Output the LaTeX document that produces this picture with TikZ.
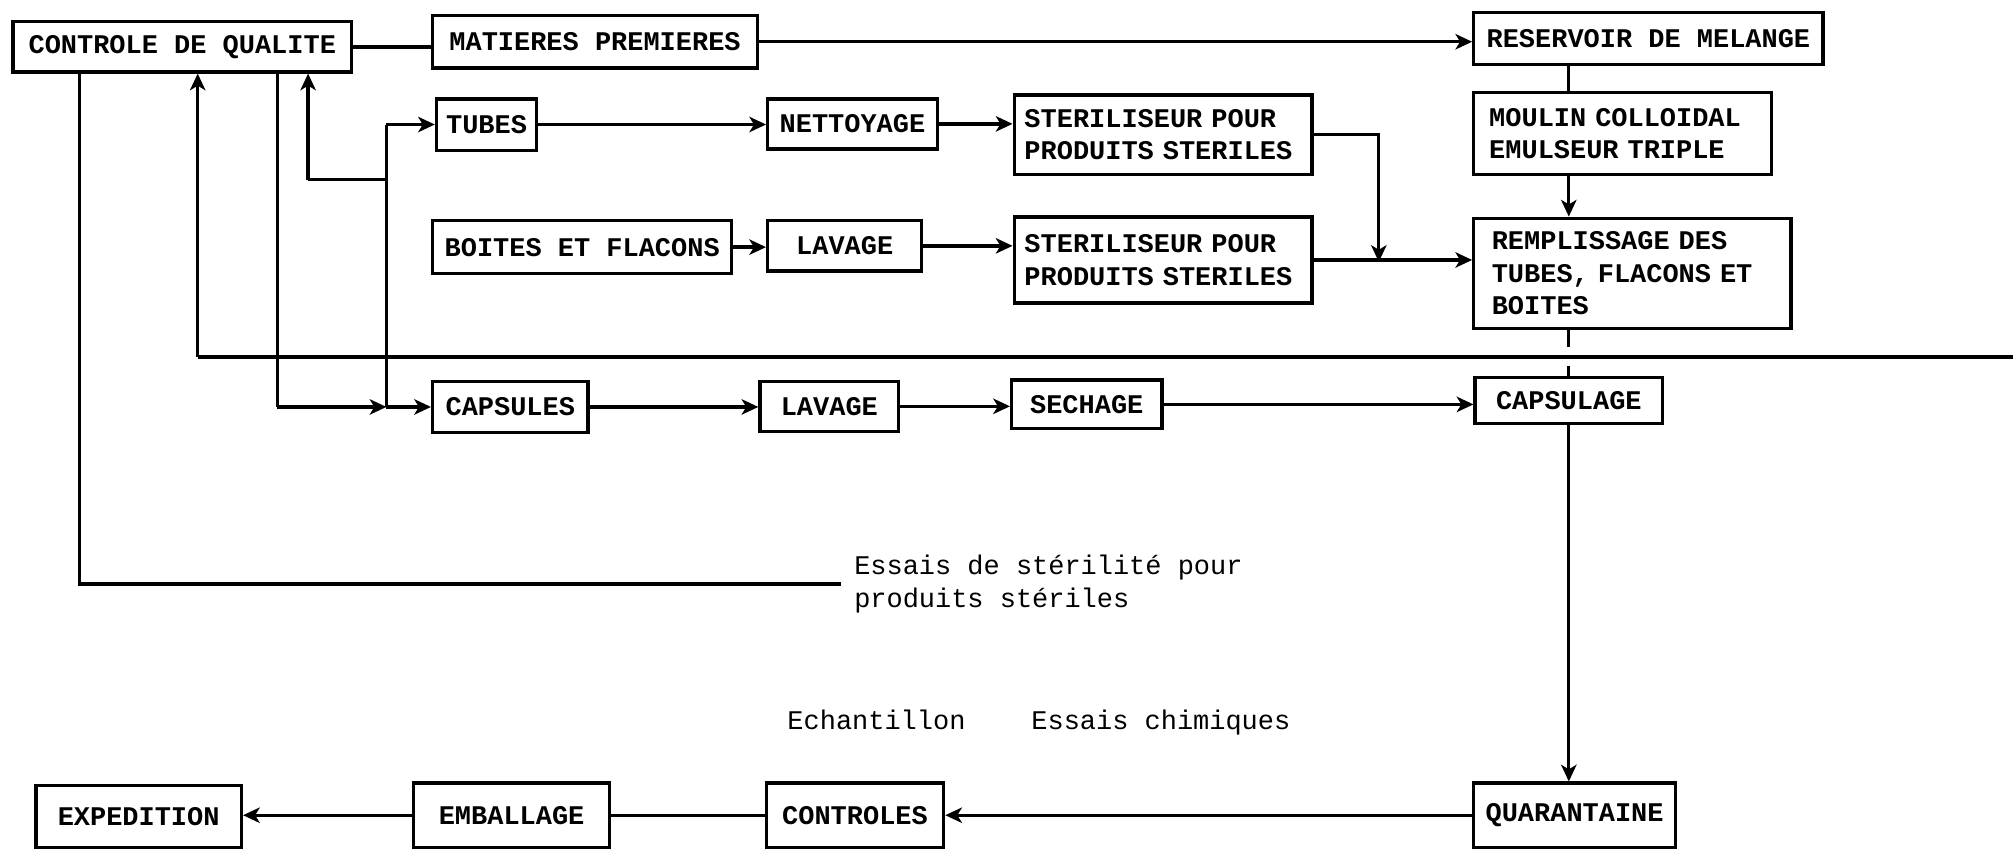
\documentclass[tikz,border=0pt]{standalone}
\usepackage{fontspec}
\newfontfamily\tw{Liberation Mono}
\usetikzlibrary{arrows.meta}
\tikzset{
  bx/.style={draw, line width=1.3pt, inner sep=0pt, font=\tw\bfseries\fontsize{10.5}{12.6}\selectfont},
  mbx/.style={bx, align=left, inner xsep=#1},
  lbl/.style={inner sep=0pt, font=\tw\fontsize{10.5}{13}\selectfont, align=left},
  ln/.style={line width=1.3pt},
  arr/.style={line width=1.3pt, -{Stealth[length=6.5pt,width=6pt,inset=1.8pt]}},
}
\begin{document}
\begin{tikzpicture}[x=0.5pt,y=-0.5pt]
\useasboundingbox (0,0) rectangle (1568,662);
\fill[white] (0,0) rectangle (1568,662);

% boxes
\node[bx, minimum width=132pt, minimum height=19.5pt] (qual) at (142,36.5) {CONTROLE DE QUALITE};
\node[bx, minimum width=126.5pt, minimum height=20.5pt] (mat) at (463.5,32.5) {MATIERES PREMIERES};
\node[bx, minimum width=136pt, minimum height=20pt] (res) at (1284,30) {RESERVOIR DE MELANGE};
\node[bx, minimum width=39pt, minimum height=20pt] (tubes) at (379,97) {TUBES};
\node[bx, minimum width=66pt, minimum height=19.5pt] (nett) at (664,96.5) {NETTOYAGE};
\node[mbx=4pt, text width=108pt, minimum height=31pt] (ster1) at (906,105) {STERILISEUR POUR\\PRODUITS STERILES};
\node[mbx=6pt, text width=104pt, minimum height=32pt] (moulin) at (1264,104) {MOULIN COLLOIDAL\\EMULSEUR TRIPLE};
\node[bx, minimum width=116.5pt, minimum height=20.5pt] (boites) at (453.5,192.5) {BOITES ET FLACONS};
\node[bx, minimum width=60pt, minimum height=19.5pt] (lav1) at (658,191.5) {LAVAGE};
\node[mbx=4pt, text width=108pt, minimum height=33.5pt] (ster2) at (906,202.5) {STERILISEUR POUR\\PRODUITS STERILES};
\node[mbx=7pt, text width=109.5pt, minimum height=43pt] (rempl) at (1271.5,213) {REMPLISSAGE DES\\TUBES, FLACONS ET\\BOITES};
\node[bx, minimum width=60.5pt, minimum height=20pt] (caps) at (397.5,317) {CAPSULES};
\node[bx, minimum width=54pt, minimum height=19.5pt] (lav2) at (646,316.5) {LAVAGE};
\node[bx, minimum width=58.5pt, minimum height=19pt] (sech) at (846.5,315) {SECHAGE};
\node[bx, minimum width=73pt, minimum height=18pt] (capsulage) at (1222,312) {CAPSULAGE};
\node[bx, minimum width=80pt, minimum height=24pt] (exped) at (108,636) {EXPEDITION};
\node[bx, minimum width=76.5pt, minimum height=25pt] (emb) at (398.5,635) {EMBALLAGE};
\node[bx, minimum width=69pt, minimum height=25pt] (contr) at (666,635) {CONTROLES};
\node[bx, minimum width=78.5pt, minimum height=25pt] (quar) at (1226.5,635) {QUARANTAINE};

% labels
\node[lbl, anchor=west, inner xsep=5pt] (essais) at (655,455) {Essais de stérilité pour\\produits stériles};
\node[lbl, anchor=base west] (ech) at (613,568) {Echantillon};
\node[lbl, anchor=base west] (chim) at (803,568) {Essais chimiques};

% helper coordinates
\coordinate (j1) at (301,97);
\coordinate (j2) at (301,140);
\coordinate (j3) at (301,317);
\coordinate (k1) at (240,140);
\coordinate (k2) at (216,317);
\coordinate (L0) at (154,278);
\coordinate (Lend) at (1568,278);
\coordinate (m1) at (62,455);
\coordinate (c2) at (1074,204);
\coordinate (vx) at (1222,0);
\coordinate (g1) at (1222,270);
\coordinate (g2) at (1222,285);

% top rows
\draw[ln] (qual.east) -- (qual.east -| mat.west);
\draw[arr] (mat.east) -- (mat.east -| res.west);
\draw[arr] (tubes.east) -- (tubes.east -| nett.west);
\draw[arr] (nett.east) -- (nett.east -| ster1.west);
\draw[arr] (ster1.east) -| (c2);
\draw[arr] (boites.east) -- (boites.east -| lav1.west);
\draw[arr] (lav1.east) -- (lav1.east -| ster2.west);
\draw[arr] (ster2.east) -- (ster2.east -| rempl.west);
\draw[ln] (res.south -| vx) -- (moulin.north -| vx);
\draw[arr] (moulin.south -| vx) -- (rempl.north -| vx);
\draw[ln] (rempl.south -| g1) -- (g1);
\draw[ln] (g2) -- (capsulage.north);
\draw[arr] (caps.east) -- (caps.east -| lav2.west);
\draw[arr] (lav2.east) -- (lav2.east -| sech.west);
\draw[arr] (sech.east) -- (sech.east -| capsulage.west);
\draw[arr] (capsulage.south) -- (capsulage.south |- quar.north);

% bottom row
\draw[arr] (quar.west) -- (quar.west -| contr.east);
\draw[ln] (contr.west) -- (contr.west -| emb.east);
\draw[arr] (emb.west) -- (emb.west -| exped.east);

% left connectors
\draw[arr] (j1) -- (tubes.west);
\draw[ln] (j1) -- (j3);
\draw[ln] (j2) -- (k1);
\draw[arr] (k1) -- (k1 |- qual.south);
\draw[ln] (qual.south -| k2) -- (k2);
\draw[arr] (k2) -- (j3);
\draw[arr] (j3) -- (caps.west);
\draw[ln] (Lend) -- (L0);
\draw[arr] (L0) -- (L0 |- qual.south);
\draw[ln] (qual.south -| m1) -- (m1) -- (essais.west);
\end{tikzpicture}
\end{document}
